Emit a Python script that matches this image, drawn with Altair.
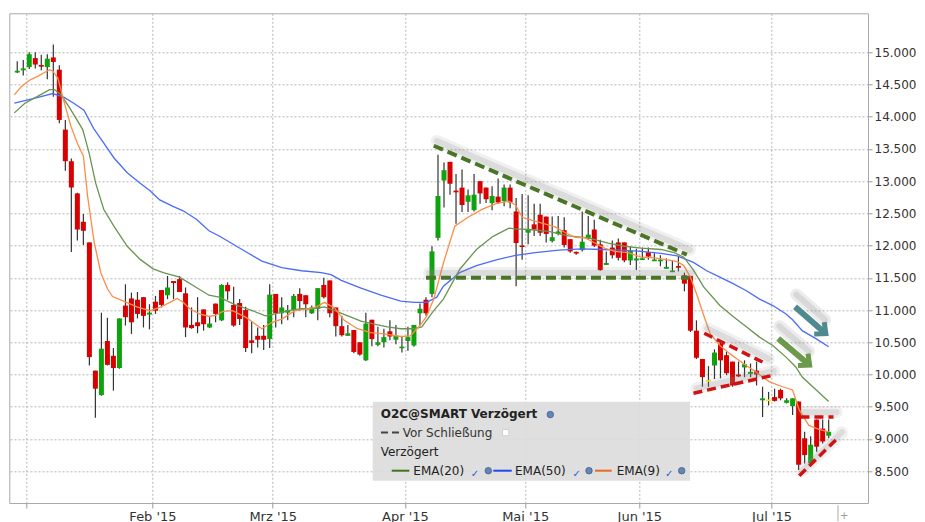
import json
import pandas as pd
import altair as alt

# ---------------- candles (trading-day index 0..135) ----------------
opens = [14.69, 14.72, 14.77, 14.91, 14.80, 14.77, 14.92, 14.73, 13.80, 13.31,
         12.81, 12.37, 12.05, 10.06, 9.68, 10.52, 10.29, 10.10, 11.07, 11.18,
         11.16, 11.20, 10.93, 11.13, 11.31, 11.23, 11.45, 11.48, 11.26, 10.77,
         10.81, 11.01, 10.73, 11.10, 10.84, 11.39, 11.08, 11.11, 11.00, 10.53,
         10.60, 10.60, 10.55, 11.25, 10.95, 10.96, 11.00, 11.25, 11.23, 10.95,
         11.02, 11.39, 11.46, 11.04, 10.75, 10.60, 10.69, 10.50, 10.22, 10.85,
         10.46, 10.50, 10.67, 10.54, 10.41, 10.52, 10.45, 10.95, 11.16, 11.25,
         12.12, 13.01, 13.30, 12.85, 12.90, 12.68, 12.55, 13.00, 12.90, 12.66,
         12.76, 12.69, 12.90, 12.53, 12.00, 12.20, 12.33, 12.48, 12.45, 12.07,
         12.18, 12.24, 12.10, 11.90, 11.93, 12.11, 12.25, 12.02, 11.70, 11.97,
         12.05, 12.05, 11.77, 11.77, 11.78, 11.90, 11.76, 11.76, 11.64, 11.59,
         11.68, 11.54, 11.53, 10.68, 10.24, 9.90, 10.14, 10.48, 10.30, 10.20,
         10.00, 10.11, 10.01, 10.06, 9.60, 9.60, 9.65, 9.76, 9.56, 9.51,
         9.58, 9.01, 8.62, 9.30, 9.16, 9.05]
highs = [14.86, 14.88, 15.00, 15.00, 14.96, 14.97, 15.12, 14.80, 13.95, 13.35,
         12.82, 12.49, 12.05, 10.06, 10.96, 10.88, 10.41, 10.87, 11.40, 11.27,
         11.28, 11.20, 11.09, 11.22, 11.31, 11.53, 11.45, 11.53, 11.35, 11.04,
         11.20, 11.01, 10.91, 11.10, 11.40, 11.43, 11.36, 11.17, 11.05, 10.83,
         10.73, 10.77, 11.40, 11.25, 11.20, 11.08, 11.25, 11.34, 11.23, 11.07,
         11.34, 11.50, 11.46, 11.04, 10.91, 10.77, 10.69, 10.50, 10.96, 10.85,
         10.74, 10.71, 10.84, 10.77, 10.58, 10.74, 10.77, 11.10, 11.20, 11.99,
         13.41, 13.29, 13.30, 13.11, 13.18, 12.87, 13.11, 13.00, 12.90, 12.92,
         13.04, 12.95, 12.95, 12.74, 12.80, 12.78, 12.65, 12.65, 12.45, 12.45,
         12.46, 12.44, 12.10, 11.91, 12.53, 12.46, 12.40, 12.09, 11.91, 12.08,
         12.11, 12.05, 11.99, 11.95, 11.97, 11.97, 11.88, 11.85, 11.80, 11.77,
         11.83, 11.58, 11.53, 10.84, 10.24, 10.13, 10.39, 10.50, 10.35, 10.20,
         10.20, 10.22, 10.17, 10.20, 9.81, 9.73, 9.78, 9.78, 9.63, 9.63,
         9.58, 9.11, 9.04, 9.30, 9.30, 9.30]
lows = [14.68, 14.64, 14.74, 14.75, 14.72, 14.58, 14.31, 13.90, 13.16, 11.90,
        12.08, 12.01, 10.14, 9.33, 9.67, 10.14, 9.75, 10.09, 10.76, 10.63,
        10.87, 10.73, 10.70, 10.94, 11.04, 11.17, 11.17, 11.28, 10.58, 10.71,
        10.64, 10.68, 10.72, 10.81, 10.83, 11.16, 10.74, 10.77, 10.35, 10.33,
        10.42, 10.38, 10.41, 10.73, 10.78, 10.84, 10.89, 10.99, 10.89, 10.94,
        10.84, 11.18, 10.89, 10.59, 10.59, 10.60, 10.33, 10.29, 10.21, 10.44,
        10.44, 10.42, 10.53, 10.47, 10.34, 10.37, 10.43, 10.76, 10.91, 11.20,
        12.08, 12.59, 12.79, 12.34, 12.52, 12.52, 12.53, 12.65, 12.66, 12.55,
        12.65, 12.61, 12.58, 11.37, 11.78, 12.02, 12.15, 12.15, 12.05, 12.05,
        12.16, 11.97, 11.89, 11.86, 11.91, 12.09, 11.98, 11.61, 11.70, 11.80,
        11.77, 11.74, 11.70, 11.62, 11.78, 11.78, 11.76, 11.68, 11.64, 11.59,
        11.60, 11.29, 10.66, 10.24, 9.81, 9.81, 9.93, 9.94, 9.99, 9.81,
        9.96, 9.96, 9.96, 9.83, 9.34, 9.52, 9.58, 9.60, 9.55, 9.37,
        8.52, 8.62, 8.62, 8.80, 8.93, 9.01]
closes = [14.71, 14.75, 14.97, 14.81, 14.78, 14.90, 14.85, 13.95, 13.31, 12.90,
          12.25, 12.23, 10.27, 9.78, 10.40, 10.15, 10.10, 10.87, 10.89, 10.81,
          10.94, 10.91, 10.96, 10.99, 11.08, 11.35, 11.42, 11.28, 10.73, 10.72,
          10.75, 10.78, 10.79, 10.94, 11.39, 11.29, 10.76, 10.86, 10.41, 10.49,
          10.54, 10.54, 11.24, 10.95, 11.04, 11.00, 11.22, 11.14, 11.09, 11.04,
          11.34, 11.20, 10.95, 10.75, 10.61, 10.64, 10.35, 10.31, 10.79, 10.55,
          10.50, 10.58, 10.59, 10.60, 10.43, 10.58, 10.77, 11.02, 10.95, 11.91,
          12.77, 13.17, 12.96, 12.83, 12.63, 12.78, 12.79, 12.81, 12.72, 12.77,
          12.67, 12.90, 12.67, 12.04, 11.98, 12.25, 12.25, 12.20, 12.18, 12.13,
          12.22, 12.01, 11.91, 11.88, 12.06, 12.17, 12.00, 11.62, 11.73, 11.85,
          11.81, 11.77, 11.92, 11.80, 11.80, 11.83, 11.78, 11.78, 11.67, 11.61,
          11.66, 11.41, 10.68, 10.26, 9.96, 9.90, 10.34, 10.22, 10.02, 9.83,
          9.97, 10.16, 10.04, 10.00, 9.63, 9.60, 9.59, 9.63, 9.60, 9.63,
          8.60, 8.75, 8.91, 8.88, 8.96, 9.11]

# ---------------- moving averages ----------------
ema9_i = [-0.49, 0.7, 2.1, 3.46, 4.6, 5.4, 5.9, 6.75, 7.85, 8.94, 10.0, 11.0, 11.7,
          12.8, 13.9, 15.0, 15.85, 17.7, 19.9, 22.1, 23.7, 25.4, 26.6, 27.6, 28.7,
          30.3, 32.0, 33.1, 34.2, 35.8, 38.0, 40.7, 42.4, 44.0, 46.2, 48.4, 49.8,
          51.1, 52.8, 54.4, 56.6, 58.8, 61.0, 63.8, 65.4, 67.0, 68.1, 69.3, 70.9,
          72.8, 75.0, 77.5, 79.7, 81.8, 82.9, 84.0, 85.7, 87.3, 89.5, 91.2, 92.8,
          94.5, 96.1, 97.7, 99.4, 101.6, 103.8, 106.0, 108.2, 109.8, 110.9, 112.0,
          113.1, 114.2, 115.3, 116.9, 118.6, 120.8, 122.9, 125.1, 127.3, 129.0,
          130.1, 131.7, 133.4, 135.0]
ema9_v = [14.34, 14.47, 14.57, 14.63, 14.69, 14.73, 14.71, 14.60, 14.21, 13.85, 13.59,
          13.39, 12.77, 12.05, 11.58, 11.33, 11.21, 11.14, 11.05, 10.99, 11.04, 11.12,
          11.18, 11.12, 11.02, 10.94, 10.90, 10.92, 10.98, 10.99, 10.89, 10.71, 10.81,
          10.86, 10.99, 11.02, 11.05, 11.12, 11.03, 10.84, 10.71, 10.65, 10.63, 10.59,
          10.60, 10.76, 10.90, 11.17, 11.73, 12.30, 12.44, 12.57, 12.65, 12.69, 12.63,
          12.44, 12.39, 12.35, 12.29, 12.20, 12.13, 12.12, 12.04, 11.96, 11.91, 11.89,
          11.82, 11.81, 11.78, 11.75, 11.69, 11.51, 11.23, 10.92, 10.63, 10.45, 10.32,
          10.17, 10.04, 9.89, 9.81, 9.76, 9.45, 9.21, 9.15, 9.11]

ema20_i = [-0.49, 1.27, 3.46, 5.38, 6.2, 7.3, 8.9, 10.9, 11.95, 13.05, 14.4, 16.1,
           18.3, 20.4, 22.6, 24.3, 27.0, 29.8, 31.9, 33.6, 36.3, 39.1, 41.3, 42.9,
           45.1, 47.3, 49.0, 51.1, 52.8, 55.0, 57.2, 59.4, 61.6, 63.8, 66.0, 67.3,
           69.2, 70.9, 73.6, 76.4, 79.1, 81.8, 82.9, 85.1, 88.4, 91.7, 95.0, 98.3,
           101.0, 103.8, 107.1, 109.3, 110.9, 112.5, 114.2, 116.9, 119.1, 121.3,
           123.5, 125.7, 127.9, 129.5, 130.6, 132.8, 135.0]
ema20_v = [14.06, 14.21, 14.32, 14.42, 14.42, 14.34, 14.11, 13.80, 13.44, 12.97, 12.56,
           12.30, 11.99, 11.79, 11.64, 11.58, 11.51, 11.35, 11.23, 11.20, 11.08, 10.99,
           10.91, 10.94, 10.99, 11.02, 11.02, 11.05, 10.99, 10.91, 10.83, 10.78, 10.74,
           10.71, 10.71, 10.74, 10.98, 11.17, 11.63, 11.94, 12.14, 12.27, 12.26, 12.25,
           12.22, 12.15, 12.12, 12.04, 11.99, 11.96, 11.94, 11.89, 11.82, 11.62, 11.36,
           11.07, 10.90, 10.74, 10.58, 10.45, 10.27, 10.12, 9.96, 9.77, 9.58]

ema50_i = [-0.49, 1.27, 3.46, 5.9, 7.8, 9.4, 11.1, 12.7, 14.4, 16.1, 18.3, 20.4,
           22.1, 23.7, 25.9, 27.6, 29.8, 31.9, 33.6, 37.4, 40.7, 44.0, 47.3, 50.6,
           52.2, 53.9, 57.2, 60.5, 63.8, 66.0, 68.1, 69.8, 70.9, 73.6, 76.4, 79.7,
           82.9, 86.2, 90.1, 93.9, 97.2, 100.5, 103.8, 107.1, 109.8, 112.5, 114.7,
           116.9, 119.1, 121.3, 123.5, 125.7, 127.9, 129.0, 130.6, 132.8, 135.0]
ema50_v = [14.21, 14.25, 14.30, 14.36, 14.30, 14.21, 14.10, 13.82, 13.59, 13.36, 13.13,
           12.97, 12.85, 12.71, 12.61, 12.54, 12.41, 12.23, 12.15, 11.94, 11.76, 11.66,
           11.61, 11.58, 11.55, 11.46, 11.34, 11.23, 11.14, 11.12, 11.12, 11.20, 11.37,
           11.58, 11.69, 11.78, 11.85, 11.89, 11.93, 11.95, 11.94, 11.93, 11.91, 11.88,
           11.84, 11.74, 11.61, 11.51, 11.41, 11.30, 11.17, 11.07, 10.94, 10.85, 10.68,
           10.56, 10.43]

# ---------------- axes ----------------
month_pos = [1.5, 22.5, 42.5, 64.5, 84.5, 103.5, 125.5]
month_labels = ["", "Feb '15", "Mrz '15", "Apr '15", "Mai '15", "Jun '15", "Jul '15"]
y_ticks = [8.5, 9.0, 9.5, 10.0, 10.5, 11.0, 11.5, 12.0, 12.5, 13.0, 13.5, 14.0, 14.5, 15.0]

# ---------------- drawn annotations (index, value) ----------------
green_seg = ["A", "A", "B", "B"]
green_i = [69.3, 111.4, 68.0, 111.7]
green_v = [13.55, 11.86, 11.50, 11.50]
red_seg = ["C", "C", "D", "D", "E", "E", "F", "F"]
red_i = [114.3, 124.5, 112.5, 125.4, 130.3, 135.8, 130.1, 136.7]
red_v = [10.64, 10.17, 9.71, 9.98, 9.34, 9.34, 8.43, 9.03]
teal_arrow_i = [129.4, 134.2]
teal_arrow_v = [11.05, 10.66]
green_arrow_i = [126.6, 131.5]
green_arrow_v = [10.56, 10.17]

GREEN = "#0ea30e"
RED = "#d80000"
DOJI = "#ffe800"

# ---------------- data frames ----------------
rows = []
for k in range(len(opens)):
    o, h, l, c = opens[k], highs[k], lows[k], closes[k]
    lo, hi = min(o, c), max(o, c)
    if hi - lo < 0.025:
        m = (hi + lo) / 2
        lo, hi = m - 0.013, m + 0.013
    d = "flat" if abs(o - c) < 0.005 else ("up" if c > o else "down")
    rows.append({"i": k, "o": o, "h": h, "l": l, "c": c, "blo": lo, "bhi": hi, "d": d})
cdf = pd.DataFrame(rows)

def line_df(ii, vv):
    return pd.DataFrame({"i": ii, "v": vv})

gdf = pd.DataFrame({"seg": green_seg, "i": green_i, "v": green_v})
rdf = pd.DataFrame({"seg": red_seg, "i": red_i, "v": red_v})
sh_all = pd.concat([gdf, rdf], ignore_index=True)
sh_all = sh_all.assign(i=sh_all["i"] + 0.5, v=sh_all["v"] + 0.075)

W, H = 858.7, 489.7
xs = alt.Scale(domain=[-0.49, 140.71], nice=False, zero=False)
ys = alt.Scale(domain=[8.006, 15.605], nice=False, zero=False)

expr = "''"
for p, lab in zip(month_pos, month_labels):
    expr = f"datum.value == {p} ? {json.dumps(lab)} : ({expr})"

xaxis = alt.Axis(values=month_pos, labelExpr=expr, grid=True, gridColor="#b5b5b5",
                 gridDash=[2, 2], gridWidth=1, tickColor="#9a9a9a", tickSize=5, domain=False,
                 labelFont="DejaVu Sans", labelFontSize=13, labelColor="#333333",
                 labelPadding=2, title=None, labelOverlap=False, labelFlush=False)
yaxis = alt.Axis(orient="right", values=y_ticks, format=".3f", grid=True, gridColor="#b5b5b5",
                 gridDash=[2, 2], gridWidth=1, tickColor="#9a9a9a", tickSize=4, domain=False,
                 labelFont="DejaVu Sans", labelFontSize=12, labelColor="#333333",
                 labelPadding=2, title=None, labelOverlap=False)

X = lambda f="i": alt.X(f"{f}:Q", scale=xs, axis=xaxis)
Y = lambda f="v": alt.Y(f"{f}:Q", scale=ys, axis=yaxis)

wick = alt.Chart(cdf).mark_rule(color="#333333", strokeWidth=1.2).encode(
    x=X(), y=Y("l"), y2="h:Q")
body = alt.Chart(cdf).mark_bar(size=5).encode(
    x=X(), y=Y("blo"), y2="bhi:Q",
    color=alt.Color("d:N", scale=alt.Scale(domain=["up", "down", "flat"],
                                           range=[GREEN, RED, DOJI]), legend=None))

def ema(ii, vv, color):
    return alt.Chart(line_df(ii, vv)).mark_line(color=color, strokeWidth=1.3).encode(
        x=X(), y=Y(), order="i:Q")

l50 = ema(ema50_i, ema50_v, "#4a6cf7")
l20 = ema(ema20_i, ema20_v, "#6a9450")
l9 = ema(ema9_i, ema9_v, "#fb8d47")

shadow1 = alt.Chart(sh_all).mark_line(color="#8a8a8a", strokeWidth=12, opacity=0.13,
                                      strokeCap="round").encode(x=X(), y=Y(), detail="seg:N")
shadow2 = alt.Chart(sh_all).mark_line(color="#8a8a8a", strokeWidth=6, opacity=0.2,
                                      strokeCap="round").encode(x=X(), y=Y(), detail="seg:N")
gdash = alt.Chart(gdf).mark_line(color="#4a7526", strokeWidth=4, strokeDash=[10, 5]).encode(
    x=X(), y=Y(), detail="seg:N")
rdash = alt.Chart(rdf).mark_line(color="#d21212", strokeWidth=3.5, strokeDash=[9, 5]).encode(
    x=X(), y=Y(), detail="seg:N")


def arrow(ii, vv, color):
    d = line_df(ii, vv)
    sh = d.assign(i=d["i"] + 0.2, v=d["v"] + 0.19)
    s1 = alt.Chart(sh).mark_line(color="#8a8a8a", strokeWidth=12, opacity=0.16,
                                 strokeCap="round").encode(x=X(), y=Y())
    s2 = alt.Chart(sh).mark_line(color="#8a8a8a", strokeWidth=6, opacity=0.2,
                                 strokeCap="round").encode(x=X(), y=Y())
    shaft = alt.Chart(d).mark_line(color=color, strokeWidth=6).encode(x=X(), y=Y())
    head = alt.Chart(d.tail(1)).mark_point(shape="M -0.7 -0.9 L 0.3 0 L -0.7 0.9", size=300,
                                           filled=False, strokeWidth=5, angle=40, opacity=1,
                                           color=color).encode(x=X(), y=Y())
    return [s1, s2, shaft, head]


arrows = arrow(teal_arrow_i, teal_arrow_v, "#4f8b8e") + arrow(green_arrow_i, green_arrow_v, "#6c9a4c")

# ---------------- legend box (pixel positions in plot area) ----------------
one = pd.DataFrame({"k": [0]})

def txt(t, x, y, size=12, bold=False, color="#222222"):
    return alt.Chart(one).mark_text(text=t, align="left", baseline="alphabetic",
                                    font="DejaVu Sans", fontSize=size,
                                    fontWeight="bold" if bold else "normal",
                                    color=color).encode(x=alt.value(x), y=alt.value(y))

def hline(x1, x2, y, color, dash=None, w=2):
    kw = dict(color=color, strokeWidth=w)
    if dash:
        kw["strokeDash"] = dash
    return alt.Chart(one).mark_rule(**kw).encode(x=alt.value(x1), x2=alt.value(x2), y=alt.value(y))

def globe(x, y):
    return alt.Chart(one).mark_circle(size=42, color="#6486b5", opacity=1,
                                      stroke="#3d5f8c", strokeWidth=0.8).encode(
        x=alt.value(x), y=alt.value(y))

def check(x, y):
    return alt.Chart(one).mark_text(text="✓", fontSize=10, fontWeight="bold",
                                    color="#1f5fd6", font="DejaVu Sans").encode(
        x=alt.value(x), y=alt.value(y))

box = alt.Chart(one).mark_rect(color="#dcdcdc", opacity=0.92).encode(
    x=alt.value(363.4), x2=alt.value(680.7), y=alt.value(388.4), y2=alt.value(467.4))
white_sq = alt.Chart(one).mark_square(size=40, color="#ffffff", opacity=1,
                                      stroke="#cfcfcf", strokeWidth=1).encode(
    x=alt.value(496.4), y=alt.value(419.3))

legend_layers = [
    box,
    txt("O2C@SMART Verzögert", 371.4, 405.0, bold=True),
    globe(541.0, 401.3),
    hline(371.7, 391.7, 419.3, "#444444", dash=[7, 4], w=2),
    txt("Vor Schließung", 393.4, 423.4, color="#333333"),
    white_sq,
    txt("Verzögert", 371.4, 442.7, color="#222222"),
    hline(382.4, 400.0, 457.4, "#3f7420"),
    txt("EMA(20)", 404.0, 461.7),
    check(465.7, 460.5), globe(479.0, 457.4),
    hline(484.0, 502.4, 457.4, "#2346f2"),
    txt("EMA(50)", 505.7, 461.7),
    check(567.4, 460.5), globe(579.7, 457.4),
    hline(585.7, 602.4, 457.4, "#e96a1f"),
    txt("EMA(9)", 607.4, 461.7),
    check(660.0, 460.5), globe(672.4, 457.4),
]

corner = alt.Chart(one).mark_rule(color="#aaaaaa", strokeWidth=1).encode(
    x=alt.value(828.7), y=alt.value(492), y2=alt.value(508))
corner_txt = alt.Chart(one).mark_text(text="+", fontSize=10, color="#999999",
                                      font="DejaVu Sans").encode(
    x=alt.value(835), y=alt.value(503))

chart = alt.layer(
    wick, body, l50, l20, l9,
    shadow1, shadow2, gdash, rdash,
    *arrows,
    *legend_layers, corner, corner_txt
).properties(
    width=W, height=H, autosize="none",
    padding={"left": 1.3, "top": 5.3, "right": 49, "bottom": 20}
).configure_view(stroke="#a9a9a9", strokeWidth=1)

chart.save("out.html", embed_options={"renderer": "svg", "actions": False})
